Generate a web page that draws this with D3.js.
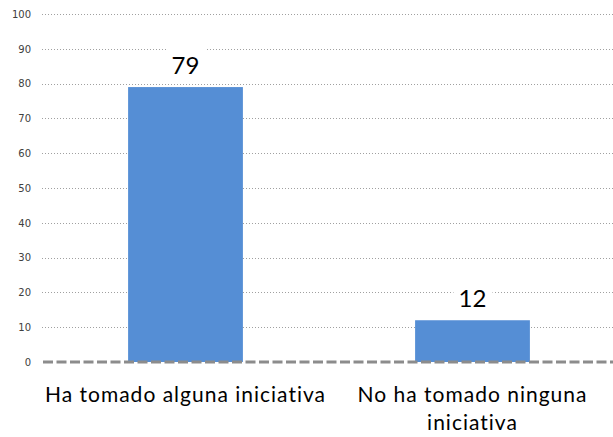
<!DOCTYPE html>
<html>
<head>
<meta charset="utf-8">
<script src="https://cdn.jsdelivr.net/npm/d3@7"></script>
<style>
  body { margin: 0; background: #fff; }
  svg { display: block; }
</style>
</head>
<body>
<div id="chart"></div>
<script>
// Datos
const categories = [["Ha tomado alguna iniciativa"], ["No ha tomado ninguna", "iniciativa"]];
const values = [79, 12];
const yTicks = [0, 10, 20, 30, 40, 50, 60, 70, 80, 90, 100];

const width = 613, height = 437;
const margin = { top: 14, right: -3, bottom: 75, left: 42 };

const svg = d3.select("#chart").append("svg")
  .attr("width", width)
  .attr("height", height);

const x = d3.scaleBand()
  .domain(d3.range(values.length))
  .range([margin.left, width - margin.right])
  .paddingInner(0.6)
  .paddingOuter(0.3);

const y = d3.scaleLinear()
  .domain([0, 100])
  .range([height - margin.bottom, margin.top]);

// Líneas de cuadrícula punteadas
svg.append("g")
  .selectAll("line")
  .data(yTicks.filter(d => d > 0))
  .join("line")
  .attr("x1", margin.left)
  .attr("x2", width)
  .attr("y1", d => Math.round(y(d)) + 0.5)
  .attr("y2", d => Math.round(y(d)) + 0.5)
  .attr("stroke", "#a0a0a0")
  .attr("stroke-width", 1)
  .attr("stroke-dasharray", "1,2");

// Eje Y (solo etiquetas)
const yAxis = svg.append("g")
  .attr("transform", `translate(${margin.left},0)`)
  .call(d3.axisLeft(y).tickValues(yTicks).tickSize(0).tickPadding(11));
yAxis.select(".domain").remove();
yAxis.selectAll("text")
  .attr("font-family", "DejaVu Sans, sans-serif")
  .attr("font-size", 10)
  .attr("fill", "#404040");

// Barras
svg.append("g")
  .selectAll("rect")
  .data(values)
  .join("rect")
  .attr("x", (d, i) => x(i))
  .attr("y", d => y(d))
  .attr("width", x.bandwidth())
  .attr("height", d => y(0) - y(d))
  .attr("fill", "#558ed5");

// Línea base discontinua
svg.append("line")
  .attr("x1", margin.left + 1)
  .attr("x2", width)
  .attr("y1", y(0))
  .attr("y2", y(0))
  .attr("stroke", "#8c8c8c")
  .attr("stroke-width", 3)
  .attr("stroke-dasharray", "10,3.5");

// Etiquetas de valor con fondo blanco
const labels = svg.append("g")
  .selectAll("g")
  .data(values)
  .join("g")
  .attr("transform", (d, i) => `translate(${x(i) + x.bandwidth() / 2},${y(d) - 13})`);

labels.append("rect")
  .attr("x", -19)
  .attr("y", -29)
  .attr("width", 39)
  .attr("height", 33)
  .attr("fill", "#fff");

labels.append("text")
  .attr("text-anchor", "middle")
  .attr("font-family", "Lato, Open Sans, sans-serif")
  .attr("font-size", 24)
  .attr("fill", "#000")
  .text(d => d);

// Etiquetas de categoría
svg.append("g")
  .selectAll("text")
  .data(categories)
  .join("text")
  .attr("x", (d, i) => x(i) + x.bandwidth() / 2)
  .attr("y", 402)
  .attr("text-anchor", "middle")
  .attr("font-family", "Lato, Open Sans, sans-serif")
  .attr("font-size", 21)
  .attr("letter-spacing", 1)
  .attr("fill", "#000")
  .selectAll("tspan")
  .data(d => d)
  .join("tspan")
  .attr("x", function () { return this.parentNode.getAttribute("x"); })
  .attr("dy", (d, j) => j === 0 ? 0 : 28)
  .text(d => d);
</script>
</body>
</html>
